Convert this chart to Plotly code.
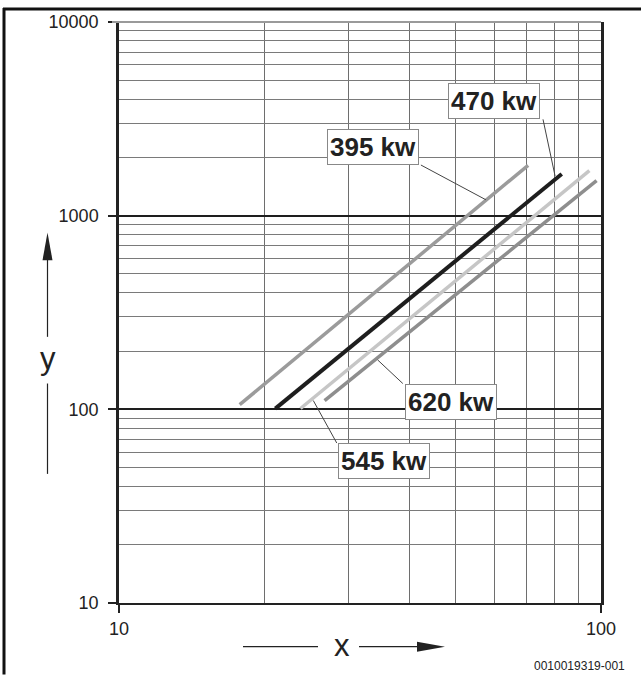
import math
import plotly.graph_objects as go

serie_nomes = ['395 kw', '470 kw', '545 kw', '620 kw']
x_inicio = [17.8, 21.1, 23.8, 26.7]
x_fim = [70.6, 82.9, 94.6, 97.9]
y_inicio = [105.7, 100.8, 101.0, 110.8]
y_fim = [1820, 1642, 1707, 1517]

ticks_y = [10, 100, 1000, 10000]
ticks_x = [10, 100]

cores = ['#9b9b9b', '#1e1e1e', '#c6c6c6', '#8e8e8e']
larguras = [3.5, 4, 3.5, 3.5]

# Posição das caixas de texto (centro) e das linhas de chamada
rotulos = {
    '395 kw': {'pos': (33.7, 2271), 'linha': ((42.3, 1826), (57.7, 1208))},
    '470 kw': {'pos': (60.0, 3908), 'linha': ((75.8, 3143), (80.3, 1603))},
    '545 kw': {'pos': (35.5, 54.1), 'linha': ((28.3, 67.0), (25.3, 111))},
    '620 kw': {'pos': (48.9, 109.3), 'linha': ((38.8, 135.9), (34.4, 180))},
}

W, H = 641, 675
L, R, T, B = 119, 40, 18, 72


def px(x):  # pixel -> paper (horizontal)
    return (x - L) / (W - L - R)


def py(y):  # pixel -> paper (vertical)
    return (H - B - y) / (H - T - B)


fig = go.Figure()

# Curvas
for nome, x0, x1, y0, y1, cor, lw in zip(serie_nomes, x_inicio, x_fim, y_inicio, y_fim, cores, larguras):
    fig.add_trace(go.Scatter(
        x=[x0, x1], y=[y0, y1], mode='lines', name=nome,
        line={'color': cor, 'width': lw}, hoverinfo='name'
    ))

# Linhas de chamada e caixas
for nome, r in rotulos.items():
    (a, b) = r['linha']
    fig.add_trace(go.Scatter(
        x=[a[0], b[0]], y=[a[1], b[1]], mode='lines',
        line={'color': '#444444', 'width': 1}, hoverinfo='skip'
    ))
    fig.add_annotation(
        x=math.log10(r['pos'][0]), y=math.log10(r['pos'][1]),
        text='<b>' + nome + '</b>', showarrow=False,
        font={'size': 26, 'color': '#222222'},
        bgcolor='white', bordercolor='#888888', borderwidth=1, borderpad=2
    )

fig.update_layout(
    width=W, height=H,
    plot_bgcolor='white', paper_bgcolor='white',
    margin={'l': L, 'r': R, 't': T, 'b': B},
    showlegend=False,
    font={'family': 'Liberation Sans, Arial, sans-serif', 'color': '#222222', 'size': 18},
    xaxis={
        'type': 'log', 'range': [1, 2],
        'tickmode': 'array', 'tickvals': ticks_x, 'ticktext': [str(v) for v in ticks_x],
        'ticks': 'outside', 'ticklen': 8, 'tickwidth': 2, 'tickcolor': '#222222',
        'showline': True, 'linecolor': '#222222', 'linewidth': 2,
        'showgrid': False, 'zeroline': False,
        'minor': {'dtick': 'D1', 'showgrid': True, 'gridcolor': '#6e6e6e', 'gridwidth': 1, 'ticks': ''},
    },
    yaxis={
        'type': 'log', 'range': [1, 4],
        'tickmode': 'array', 'tickvals': ticks_y, 'ticktext': [str(v) for v in ticks_y],
        'ticks': 'outside', 'ticklen': 8, 'tickwidth': 2, 'tickcolor': '#222222',
        'ticklabelstandoff': 6,
        'showline': True, 'linecolor': '#222222', 'linewidth': 2.5, 'mirror': True,
        'showgrid': True, 'gridcolor': '#1e1e1e', 'gridwidth': 2, 'zeroline': False,
        'minor': {'dtick': 'D1', 'showgrid': True, 'gridcolor': '#7a7a7a', 'gridwidth': 1.2, 'ticks': ''},
    },
)

# Linha superior (10000) em cinza
fig.add_shape(type='line', xref='paper', yref='paper', x0=px(112), x1=1, y0=1, y1=1,
              line={'color': '#9a9a9a', 'width': 2}, layer='above')

# Moldura externa (topo e esquerda)
fig.add_shape(type='line', xref='paper', yref='paper', x0=px(3), x1=px(641), y0=py(5), y1=py(5),
              line={'color': '#111111', 'width': 3})
fig.add_shape(type='line', xref='paper', yref='paper', x0=px(4), x1=px(4), y0=py(4), y1=py(675),
              line={'color': '#111111', 'width': 3})

# Seta do eixo y
fig.add_shape(type='line', xref='paper', yref='paper', x0=px(47.5), x1=px(47.5), y0=py(473), y1=py(382),
              line={'color': '#222222', 'width': 1.2})
fig.add_shape(type='line', xref='paper', yref='paper', x0=px(47.5), x1=px(47.5), y0=py(335), y1=py(256),
              line={'color': '#222222', 'width': 1.2})
fig.add_shape(type='path', xref='paper', yref='paper', fillcolor='#222222', line={'width': 0},
              path='M {} {} L {} {} L {} {} Z'.format(px(47.5), py(230), px(42.5), py(258), px(52.5), py(258)))
fig.add_annotation(xref='paper', yref='paper', x=px(47.5), y=py(357), text='y', showarrow=False,
                   font={'size': 31, 'color': '#222222'}, xanchor='center', yanchor='middle')

# Seta do eixo x
fig.add_shape(type='line', xref='paper', yref='paper', x0=px(243), x1=px(318), y0=py(647), y1=py(647),
              line={'color': '#222222', 'width': 1.2})
fig.add_shape(type='line', xref='paper', yref='paper', x0=px(359), x1=px(420), y0=py(647), y1=py(647),
              line={'color': '#222222', 'width': 1.2})
fig.add_shape(type='path', xref='paper', yref='paper', fillcolor='#222222', line={'width': 0},
              path='M {} {} L {} {} L {} {} Z'.format(px(417), py(642), px(417), py(652), px(445), py(647)))
fig.add_annotation(xref='paper', yref='paper', x=px(342), y=py(646), text='x', showarrow=False,
                   font={'size': 31, 'color': '#222222'}, xanchor='center', yanchor='middle')

# Código da figura
fig.add_annotation(xref='paper', yref='paper', x=px(627), y=py(666), text='0010019319-001', showarrow=False,
                   font={'size': 12, 'color': '#222222'}, xanchor='right', yanchor='middle')

# Remove a margem padrão do <body> para a figura ocupar a janela inteira
fig.write_html('out.html', config={'displayModeBar': False},
               post_script="document.body.style.margin='0';")
